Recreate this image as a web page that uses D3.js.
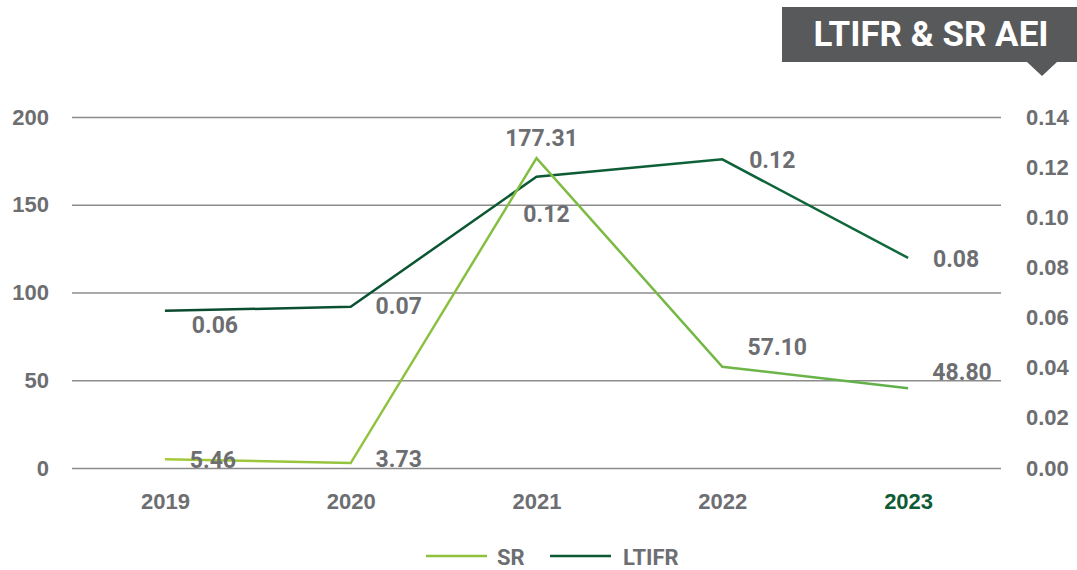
<!DOCTYPE html>
<html>
<head>
<meta charset="utf-8">
<style>
  body { margin: 0; background: #fff; }
  svg { display: block; font-family: Roboto, "DejaVu Sans", sans-serif; font-weight: 700; }
</style>
</head>
<body>
<svg width="1077" height="570"></svg>
<script src="https://d3js.org/d3.v7.min.js"></script>
<script>

var years = ["2019", "2020", "2021", "2022", "2023"];
// values as plotted
var srValues = [5.0, 2.8, 176.6, 57.7, 45.5];
var ltifrValues = [0.0627, 0.0643, 0.1162, 0.1231, 0.0838];
// labels as printed on the chart
var srLabels = ["5.46", "3.73", "177.31", "57.10", "48.80"];
var ltifrLabels = ["0.06", "0.07", "0.12", "0.12", "0.08"];
var leftTicks = [0, 50, 100, 150, 200];
var rightTicks = [0, 0.02, 0.04, 0.06, 0.08, 0.10, 0.12, 0.14];

// label placement relative to the point (text centre)
var srOffsets = [[48, 0], [48, -4], [5, -20], [55, -20], [54, -16]];
var ltifrOffsets = [[50, 14], [48, -1], [10, 37], [50, 0], [48, 1]];

var grey = "#6d6e71";

var svg = d3.select("svg"),
    plotLeft = 72, plotRight = 1001, plotTop = 117, plotBottom = 468;

var x = d3.scalePoint().domain(years).range([plotLeft, plotRight]).padding(0.5);
var yL = d3.scaleLinear().domain([0, 200]).range([plotBottom, plotTop]);
var yR = d3.scaleLinear().domain([0, 0.14]).range([plotBottom, plotTop]);

var defs = svg.append("defs");
function grad(id, c0, c1) {
  var g = defs.append("linearGradient").attr("id", id)
      .attr("gradientUnits", "userSpaceOnUse")
      .attr("x1", x(years[0])).attr("x2", x(years[years.length - 1]))
      .attr("y1", 0).attr("y2", 0);
  g.append("stop").attr("offset", 0).attr("stop-color", c0);
  g.append("stop").attr("offset", 1).attr("stop-color", c1);
}
grad("srGrad", "#a5c93a", "#5eb04a");
grad("ltGrad", "#0a4a2e", "#0f6a3b");

// title box
svg.append("rect").attr("x", 782).attr("y", 7).attr("width", 295).attr("height", 55).attr("fill", "#58595b");
svg.append("path").attr("d", "M1027,62L1057,62L1042,76Z").attr("fill", "#58595b");
svg.append("text").attr("x", 931).attr("y", 46).attr("text-anchor", "middle")
  .attr("fill", "#fff").attr("font-size", 35).text("LTIFR & SR AEI");

// gridlines
svg.append("g")
  .attr("transform", "translate(" + plotLeft + ",0)")
  .call(d3.axisLeft(yL).tickValues(leftTicks).tickSize(-(plotRight - plotLeft)).tickFormat(""))
  .call(function (g) {
    g.select(".domain").remove();
    g.selectAll("line").attr("stroke", "#8c8c8c").attr("stroke-width", 1.5);
  });

// left axis
svg.append("g")
  .attr("transform", "translate(49,0)")
  .call(d3.axisLeft(yL).tickValues(leftTicks).tickSize(0).tickPadding(0))
  .call(function (g) {
    g.select(".domain").remove();
    g.selectAll("text").attr("fill", grey).attr("font-size", 22)
      .attr("font-family", null).attr("font-weight", 700);
  });

// right axis
svg.append("g")
  .attr("transform", "translate(1026,0)")
  .call(d3.axisRight(yR).tickValues(rightTicks).tickSize(0).tickPadding(0).tickFormat(d3.format(".2f")))
  .call(function (g) {
    g.select(".domain").remove();
    g.selectAll("text").attr("fill", grey).attr("font-size", 22)
      .attr("font-family", null).attr("font-weight", 700);
  });

// x axis
svg.append("g")
  .attr("transform", "translate(0,493)")
  .call(d3.axisBottom(x).tickSize(0).tickPadding(0))
  .call(function (g) {
    g.select(".domain").remove();
    g.selectAll("text").attr("fill", function (d) { return d === "2023" ? "#0d5c35" : grey; })
      .attr("font-size", 22).attr("font-family", null).attr("font-weight", 700);
  });

// lines
var srLine = d3.line().x(function (d, i) { return x(years[i]); }).y(function (d) { return yL(d); });
var ltLine = d3.line().x(function (d, i) { return x(years[i]); }).y(function (d) { return yR(d); });

svg.append("path").datum(ltifrValues).attr("d", ltLine)
  .attr("fill", "none").attr("stroke", "url(#ltGrad)").attr("stroke-width", 2.5);
svg.append("path").datum(srValues).attr("d", srLine)
  .attr("fill", "none").attr("stroke", "url(#srGrad)").attr("stroke-width", 2.5);

// data labels
svg.append("g").selectAll("text").data(srValues).join("text")
  .attr("x", function (d, i) { return x(years[i]) + srOffsets[i][0]; })
  .attr("y", function (d, i) { return yL(d) + srOffsets[i][1]; })
  .attr("dy", "0.36em").attr("text-anchor", "middle")
  .attr("fill", grey).attr("font-size", 23)
  .text(function (d, i) { return srLabels[i]; });

svg.append("g").selectAll("text").data(ltifrValues).join("text")
  .attr("x", function (d, i) { return x(years[i]) + ltifrOffsets[i][0]; })
  .attr("y", function (d, i) { return yR(d) + ltifrOffsets[i][1]; })
  .attr("dy", "0.36em").attr("text-anchor", "middle")
  .attr("fill", grey).attr("font-size", 23)
  .text(function (d, i) { return ltifrLabels[i]; });

// legend
var legend = svg.append("g").attr("transform", "translate(426,556)");
legend.append("line").attr("x1", 0).attr("x2", 61).attr("y1", 0).attr("y2", 0)
  .attr("stroke", "#8fc13f").attr("stroke-width", 2.5);
legend.append("text").attr("x", 71).attr("y", 1).attr("dy", "0.36em")
  .attr("fill", grey).attr("font-size", 22).text("SR");
legend.append("line").attr("x1", 124).attr("x2", 185).attr("y1", 0).attr("y2", 0)
  .attr("stroke", "#0c5a33").attr("stroke-width", 2.5);
legend.append("text").attr("x", 197).attr("y", 1).attr("dy", "0.36em")
  .attr("fill", grey).attr("font-size", 22).text("LTIFR");

</script>
</body>
</html>
